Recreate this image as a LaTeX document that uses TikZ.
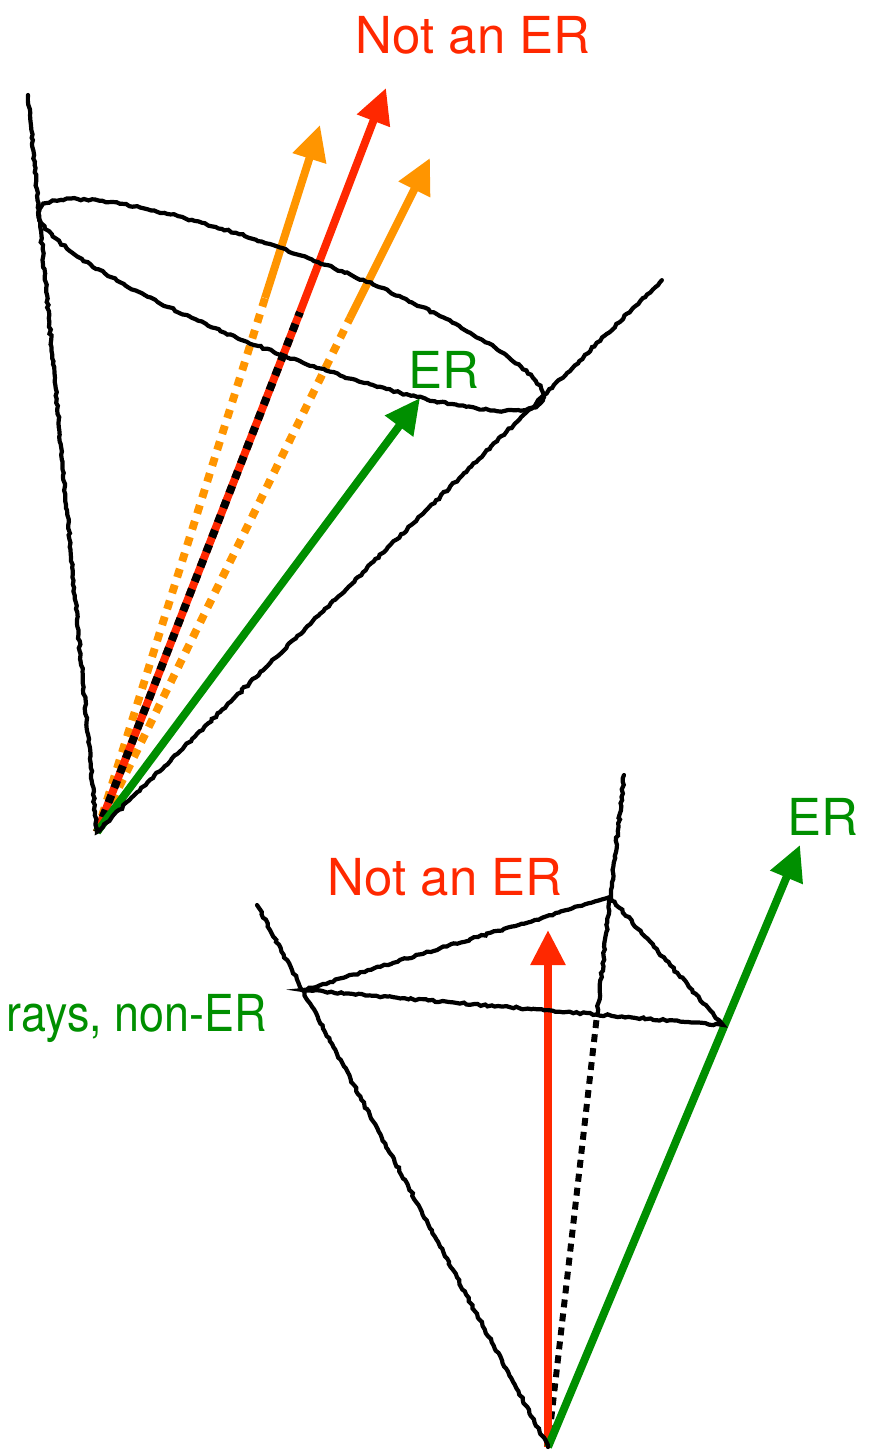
\documentclass[tikz,border=0pt]{standalone}
\usepackage{fontspec}
\setmainfont{TeX Gyre Heros}
\usepackage{xcolor}
\usetikzlibrary{arrows.meta, decorations.pathmorphing}
\definecolor{rayred}{RGB}{255,40,0}
\definecolor{rayorange}{RGB}{255,149,0}
\definecolor{raygreen}{RGB}{0,143,0}

\begin{document}
\begin{tikzpicture}[
  x=0.02cm, y=-0.02cm,
  sketch/.style={draw=black, line width=2.4pt, line cap=round, decorate, decoration={random steps, segment length=2pt, amplitude=0.6pt}},
  ray/.style={line width=4.5pt},
  arrow/.style={-{Triangle[length=20pt, width=19pt]}},
  dots/.style={dash pattern=on 5pt off 4.5pt},
  hidden/.style={draw=black, line width=3.4pt, dash pattern=on 4.5pt off 3.5pt},
  tag/.style={font=\fontsize{29}{34}\selectfont, inner sep=0pt}
]
  \useasboundingbox (0,0) rectangle (880,1451);

  % upper cone
  \coordinate (apexA) at (97,832);
  \coordinate (coneL) at (28,95);
  \coordinate (coneR) at (662,280);
  \coordinate (ringC) at (291,305);
  \coordinate (redMid) at (300,312);
  \coordinate (redTip) at (386,88);
  \coordinate (orgMidL) at (265,298);
  \coordinate (orgTipL) at (320,125);
  \coordinate (orgMidR) at (350,318);
  \coordinate (orgTipR) at (430,158);
  \coordinate (grnTip) at (420,398);

  \draw[ray, rayorange, dots] (apexA) -- (orgMidL);
  \draw[ray, rayorange, arrow] (orgMidL) -- (orgTipL);
  \draw[ray, rayorange, dots] (apexA) -- (orgMidR);
  \draw[ray, rayorange, arrow] (orgMidR) -- (orgTipR);
  \draw[ray, rayred] (apexA) -- (redMid);
  \draw[ray, black, dash pattern=on 4.5pt off 4.5pt] (apexA) -- (redMid);
  \draw[ray, rayred, arrow] (redMid) -- (redTip);
  \draw[ray, raygreen, arrow] (apexA) -- (grnTip);

  \draw[sketch] (coneL) -- (apexA) -- (coneR);
  \draw[sketch, rotate around={-20.7:(ringC)}] (ringC) ellipse [x radius=5.38cm, y radius=1cm];

  \node[tag, text=rayred] (notTop) at (473,35) {Not an ER};
  \node[tag, text=raygreen] (erTop) at (444,370) {ER};

  % lower pyramid
  \coordinate (apexB) at (548,1447);
  \coordinate (edgeL) at (257,905);
  \coordinate (cornL) at (303,990);
  \coordinate (cornB) at (610,897);
  \coordinate (cornR) at (723,1025);
  \coordinate (backTop) at (624,775);
  \coordinate (backCut) at (597,1015);
  \coordinate (redUp) at (548,930);
  \coordinate (grnUp) at (800,845);

  \draw[hidden] (apexB) -- (backCut);
  \draw[ray, rayred, arrow] (apexB) -- (redUp);
  \draw[ray, raygreen, arrow] (apexB) -- (grnUp);

  \draw[sketch] (apexB) -- (edgeL);
  \draw[sketch] (backTop) -- (backCut);
  \draw[sketch] (cornL) -- (cornB) -- (cornR) -- cycle;

  \node[tag, text=rayred] (notLow) at (445,877) {Not an ER};
  \node[tag, text=raygreen] (erLow) at (823,817) {ER};
  \node[tag, text=raygreen, anchor=base east, xscale=0.88, transform shape] (rays) at (267,1031) {rays, non-ER};
\end{tikzpicture}
\end{document}
